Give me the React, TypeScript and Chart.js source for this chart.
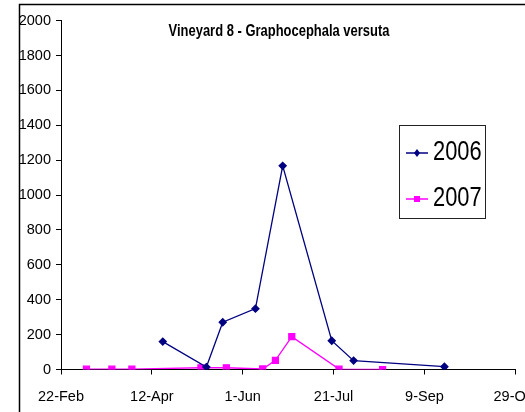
import React, { useEffect, useRef } from "react";
import { Chart, registerables } from "chart.js";

Chart.register(...registerables);

const chartTitle = "Vineyard 8 - Graphocephala versuta";
const xTickDays = [53, 103, 153, 203, 253, 303];
const xTickLabels = ["22-Feb", "12-Apr", "1-Jun", "21-Jul", "9-Sep", "29-Oct"];
const seriesLabels = ["2006", "2007"];
const days2006 = [109, 133, 142, 160, 175, 202, 214, 264];
const counts2006 = [160, 14, 271, 349, 1168, 165, 51, 16];
const days2007 = [67, 81, 92, 130, 144, 164, 171, 180, 206, 230];
const counts2007 = [2, 2, 2, 10, 10, 3, 53, 188, 2, 0];

const FONT = '"Liberation Sans", Arial, sans-serif';
const NARROW = 0.81;

function narrowText(ctx: any, text: string, x: number, y: number, align: string) {
  ctx.save();
  ctx.translate(x, y);
  ctx.scale(NARROW, 1);
  ctx.textAlign = align;
  ctx.textBaseline = "middle";
  ctx.fillText(text, 0, 0);
  ctx.restore();
}

const decorPlugin = {
  id: "decor",
  beforeDraw(chart: any) {
    const ctx = chart.ctx;
    ctx.save();
    ctx.fillStyle = "#fff";
    ctx.fillRect(0, 0, chart.width, chart.height);
    ctx.strokeStyle = "#000";
    ctx.lineWidth = 1.5;
    ctx.strokeRect(19.5, 4.5, chart.width + 40, chart.height + 40);
    ctx.restore();
  },
  afterDraw(chart: any) {
    const ctx = chart.ctx;
    ctx.save();
    // title
    ctx.fillStyle = "#000";
    ctx.font = "bold 16px " + FONT;
    narrowText(ctx, chartTitle, 279, 31.5, "center");
    // legend
    const bx = 399.5, by = 125.5, bw = 86, bh = 93;
    ctx.fillStyle = "#fff";
    ctx.fillRect(bx, by, bw, bh);
    ctx.strokeStyle = "#222";
    ctx.lineWidth = 1;
    ctx.strokeRect(bx, by, bw, bh);
    const rows = [153, 199];
    chart.data.datasets.forEach((ds: any, i: number) => {
      const y = rows[i];
      ctx.strokeStyle = ds.borderColor;
      ctx.lineWidth = 1.5;
      ctx.beginPath();
      ctx.moveTo(406, y);
      ctx.lineTo(428, y);
      ctx.stroke();
      ctx.fillStyle = ds.pointBackgroundColor;
      ctx.beginPath();
      if (ds.pointStyle === "rectRot") {
        ctx.moveTo(417, y - 4);
        ctx.lineTo(420, y);
        ctx.lineTo(417, y + 4);
        ctx.lineTo(414, y);
        ctx.closePath();
      } else {
        ctx.rect(414, y - 3, 6, 6);
      }
      ctx.fill();
      ctx.fillStyle = "#000";
      ctx.font = "27px " + FONT;
      narrowText(ctx, ds.label, 433, y, "left");
    });
    ctx.restore();
  },
};

export default function App() {
  const ref = useRef<HTMLCanvasElement | null>(null);
  useEffect(() => {
    document.body.style.margin = "0";
    if (!ref.current) return;
    const chart = new Chart(ref.current, {
      type: "line",
      data: {
        datasets: [
          {
            label: seriesLabels[0],
            data: days2006.map((d, i) => ({ x: d, y: counts2006[i] })),
            borderColor: "#000080",
            backgroundColor: "#000080",
            pointBackgroundColor: "#000080",
            pointBorderColor: "#000080",
            pointStyle: "rectRot",
            pointRadius: 3.5,
            borderWidth: 1.3,
            tension: 0,
          },
          {
            label: seriesLabels[1],
            data: days2007.map((d, i) => ({ x: d, y: counts2007[i] })),
            borderColor: "#FF00FF",
            backgroundColor: "#FF00FF",
            pointBackgroundColor: "#FF00FF",
            pointBorderColor: "#FF00FF",
            pointStyle: "rect",
            pointRadius: 4.2,
            borderWidth: 1.3,
            tension: 0,
          },
        ],
      },
      options: {
        responsive: false,
        animation: false,
        layout: { padding: { left: 0, top: 20.7, right: 9.7, bottom: 0 } },
        plugins: { legend: { display: false }, title: { display: false }, tooltip: { enabled: false } },
        scales: {
          x: {
            type: "linear",
            min: xTickDays[0],
            max: xTickDays[xTickDays.length - 1],
            afterBuildTicks(scale: any) {
              scale.ticks = xTickDays.map((v) => ({ value: v }));
            },
            afterFit(scale: any) {
              scale.height = 42.5;
              scale.paddingLeft = 0;
              scale.paddingRight = 0;
            },
            ticks: {
              autoSkip: false,
              maxRotation: 0,
              padding: 14,
              color: "#000",
              font: { family: FONT, size: 14.5 },
              callback: (v: any) => {
                const i = xTickDays.indexOf(Number(v));
                return i >= 0 ? xTickLabels[i] : "";
              },
            },
            grid: { display: true, drawOnChartArea: false, drawTicks: true, tickLength: 5, color: "#000" },
            border: { display: true, color: "#000", width: 1 },
          },
          y: {
            type: "linear",
            min: 0,
            max: 2000,
            afterFit(scale: any) {
              scale.width = 61;
              scale.paddingTop = 0;
              scale.paddingBottom = 0;
            },
            ticks: {
              stepSize: 200,
              padding: 5,
              color: "#000",
              font: { family: FONT, size: 14.5 },
              callback: (v: any) => String(v),
            },
            grid: { display: true, drawOnChartArea: false, drawTicks: true, tickLength: 5, color: "#000" },
            border: { display: true, color: "#000", width: 1 },
          },
        },
      },
      plugins: [decorPlugin],
    } as any);
    return () => chart.destroy();
  }, []);
  return <canvas ref={ref} width={525} height={412} style={{ display: "block", width: 525, height: 412 }} />;
}
